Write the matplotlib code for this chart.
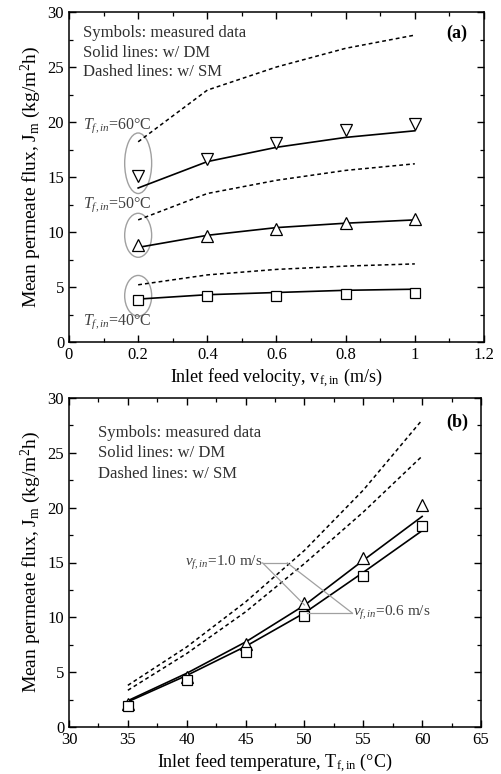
import matplotlib
matplotlib.use('Agg')
import matplotlib.pyplot as plt
from matplotlib.patches import Ellipse
from matplotlib.ticker import MultipleLocator

plt.rcParams['font.family'] = ['Liberation Serif', 'DejaVu Serif']
plt.rcParams['mathtext.fontset'] = 'custom'
plt.rcParams['mathtext.rm'] = 'Liberation Serif'
plt.rcParams['mathtext.it'] = 'Liberation Serif:italic'
plt.rcParams['mathtext.bf'] = 'Liberation Serif:bold'

# ---- panel (a): flux vs inlet feed velocity ----
vel = [0.2, 0.4, 0.6, 0.8, 1.0]
meas_60 = [15.1, 16.6, 18.1, 19.3, 19.8]
meas_50 = [8.8, 9.6, 10.3, 10.8, 11.2]
meas_40 = [3.8, 4.2, 4.2, 4.4, 4.5]
dm_60 = [14.0, 16.4, 17.7, 18.6, 19.2]
dm_50 = [8.6, 9.7, 10.4, 10.8, 11.1]
dm_40 = [3.9, 4.3, 4.5, 4.7, 4.8]
sm_60 = [18.2, 22.9, 25.0, 26.7, 27.9]
sm_50 = [11.1, 13.5, 14.7, 15.6, 16.2]
sm_40 = [5.2, 6.1, 6.6, 6.9, 7.1]

# ---- panel (b): flux vs inlet feed temperature ----
temp = [35, 40, 45, 50, 55, 60]
meas_v10 = [2.1, 4.6, 7.6, 11.3, 15.4, 20.2]
meas_v06 = [1.9, 4.3, 6.85, 10.1, 13.8, 18.3]
dm_v10 = [2.4, 4.9, 7.75, 11.1, 15.2, 19.2]
dm_v06 = [2.3, 4.7, 7.35, 10.4, 14.1, 17.9]
sm_v10 = [3.8, 7.3, 11.4, 16.1, 21.6, 28.0]
sm_v06 = [3.35, 6.7, 10.5, 14.9, 19.6, 24.7]

txt_col = '#303030'
grey = '#a0a0a0'

fig = plt.figure(figsize=(5.02, 7.74), dpi=100)
ax1 = fig.add_axes([69 / 502, 1 - 342 / 774, (484 - 69) / 502, (342 - 12) / 774])
ax2 = fig.add_axes([69 / 502, 1 - 727 / 774, (481 - 69) / 502, (727 - 398) / 774])

solid_kw = dict(color='black', lw=1.2, ls='-')
dash_kw = dict(color='black', lw=1.1, ls=(0, (2.5, 2.0)))
mk_kw = dict(ls='none', mfc='white', mec='black', mew=0.9, ms=8.5)
sq_kw = dict(ls='none', mfc='white', mec='black', mew=0.9, ms=7.5)

# panel (a)
for dm, sm in [(dm_60, sm_60), (dm_50, sm_50), (dm_40, sm_40)]:
    ax1.plot(vel, dm, **solid_kw)
    ax1.plot(vel, sm, **dash_kw)
ax1.plot(vel, meas_60, marker='v', **mk_kw)
ax1.plot(vel, meas_50, marker='^', **mk_kw)
ax1.plot(vel, meas_40, marker='s', **sq_kw)

for yc, h in [(16.25, 5.5), (9.7, 4.0), (4.2, 3.7)]:
    ax1.add_patch(Ellipse((0.2, yc), 0.078, h, fill=False, ec=grey, lw=1.0))

ax1.text(0.04, 19.7, r'$T_{f,in}$=60°C', fontsize=11.5, color='#404040', va='center')
ax1.text(0.04, 12.45, r'$T_{f,in}$=50°C', fontsize=11.5, color='#404040', va='center')
ax1.text(0.04, 1.8, r'$T_{f,in}$=40°C', fontsize=11.5, color='#404040', va='center')

for y, s in [(28.1, 'Symbols: measured data'), (26.3, 'Solid lines: w/ DM'),
             (24.5, 'Dashed lines: w/ SM')]:
    ax1.text(0.04, y, s, fontsize=12, color=txt_col, va='center')
ax1.text(1.12, 28.1, '(a)', fontsize=13, fontweight='bold', ha='center', va='center')

ax1.set_xlim(0, 1.2)
ax1.set_ylim(0, 30)
ax1.xaxis.set_minor_locator(MultipleLocator(0.1))
ax1.set_xticks([0, 0.2, 0.4, 0.6, 0.8, 1.0, 1.2])
ax1.set_xticklabels(['0', '0.2', '0.4', '0.6', '0.8', '1', '1.2'])
ax1.set_xlabel(r'Inlet feed velocity, v$_\mathrm{f,in}$ (m/s)', fontsize=13, labelpad=2)

# panel (b)
ax2.plot(temp, dm_v10, **solid_kw)
ax2.plot(temp, dm_v06, **solid_kw)
ax2.plot(temp, sm_v10, **dash_kw)
ax2.plot(temp, sm_v06, **dash_kw)
ax2.plot(temp, meas_v10, marker='^', **mk_kw)
ax2.plot(temp, meas_v06, marker='s', **sq_kw)

# leader lines for the velocity labels
ax2.plot([46.45, 48.55], [14.96, 14.96], color=grey, lw=0.9)
ax2.plot([46.45, 50.0], [14.96, 11.13], color=grey, lw=0.9)
ax2.plot([48.55, 54.05], [14.96, 10.4], color=grey, lw=0.9)
ax2.plot([50.25, 54.05], [10.4, 10.4], color=grey, lw=0.9)
ax2.text(46.4, 14.96, r'$v_{f,in}$=1.0 m/s', fontsize=11, color='#404040', ha='right', va='center')
ax2.text(54.15, 10.4, r'$v_{f,in}$=0.6 m/s', fontsize=11, color='#404040', ha='left', va='center')

for y, s in [(26.8, 'Symbols: measured data'), (25.0, 'Solid lines: w/ DM'),
             (23.1, 'Dashed lines: w/ SM')]:
    ax2.text(32.5, y, s, fontsize=12, color=txt_col, va='center')
ax2.text(63.0, 27.8, '(b)', fontsize=13, fontweight='bold', ha='center', va='center')

ax2.set_xlim(30, 65)
ax2.set_ylim(0, 30)
ax2.xaxis.set_major_locator(MultipleLocator(5))
ax2.xaxis.set_minor_locator(MultipleLocator(2.5))
ax2.set_xlabel(r'Inlet feed temperature, T$_\mathrm{f,in}$ (°C)', fontsize=13, labelpad=2)

for ax in (ax1, ax2):
    ax.yaxis.set_major_locator(MultipleLocator(5))
    ax.yaxis.set_minor_locator(MultipleLocator(2.5))
    ax.set_ylabel(r'Mean permeate flux, J$_\mathrm{m}$ (kg/m$^2$h)', fontsize=14, labelpad=3)
    ax.tick_params(which='both', direction='in', top=True, right=True, labelsize=12)
    ax.tick_params(which='major', length=5, width=1.0)
    ax.tick_params(which='minor', length=3, width=0.9)
    for sp in ax.spines.values():
        sp.set_linewidth(1.1)

fig.savefig('out.png', dpi=100)
